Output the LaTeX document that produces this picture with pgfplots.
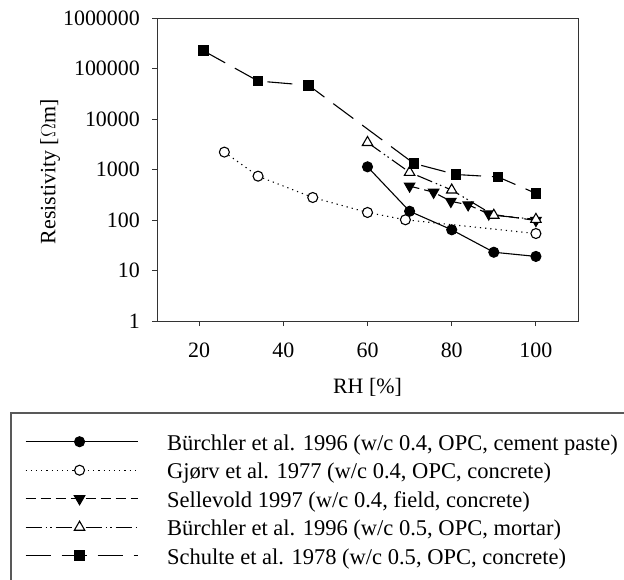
\documentclass[border=0pt]{standalone}
\usepackage{fontspec}
\setmainfont{Liberation Serif}
\usepackage{pgfplots}
\pgfplotsset{compat=1.18}
\begin{document}
\begin{tikzpicture}[x=1bp,y=1bp]
\useasboundingbox (0,0) rectangle (624,-580);
\clip (0,0) rectangle (624,-580);
\begin{axis}[
  at={(157bp,-321bp)}, anchor=south west,
  scale only axis, width=421bp, height=303bp,
  xmin=10, xmax=110, ymode=log, ymin=1, ymax=1000000,
  xtick={20,40,60,80,100},
  ytick={1,10,100,1000,10000,100000,1000000},
  yticklabels={1,10,100,1000,10000,100000,1000000},
  yminorticks=false, xminorticks=false,
  tick align=outside, tick pos=left, major tick length=5bp,
  axis line style={black!80, line width=1bp},
  every tick/.style={black!80, line width=1bp},
  font=\fontsize{22}{26}\selectfont,
  /pgf/number format/assume math mode=true,
  xticklabel style={inner sep=0pt, anchor=north, yshift=-17bp},
  yticklabel style={inner sep=0pt, anchor=east, xshift=-12bp},
  xlabel={RH [\%]},
  ylabel={Resistivity [$\Omega$m]},
  xlabel style={at={(axis description cs:0.5,-0.2195)}, anchor=center, inner sep=0pt},
  ylabel style={at={(axis description cs:-0.254,0.492)}, anchor=center, inner sep=0pt},
  legend image code/.code={\draw[mark repeat=2,mark phase=2,#1] plot coordinates {(0bp,2.8bp) (54bp,2.8bp) (112bp,2.8bp)};},
  legend cell align=left,
  legend style={at={(axis description cs:-0.3135,-0.3713)}, anchor=north west,
    draw=none, fill=none, inner sep=0pt, outer sep=0pt, row sep=6.5bp,
    font=\fontsize{22.6}{27}\selectfont,
    nodes={inner sep=0pt, text height=16.5bp, text depth=5.5bp, font=\fontsize{22.6}{27}\selectfont},
    /tikz/every odd column/.append style={column sep=29bp}},
]
\addplot[black, line width=1.1bp, mark=*, mark size=5bp, mark options={solid, fill=black}]
  coordinates {(60,1130) (70,149) (80,64) (90,23) (100,19)};
\addlegendentry{Bürchler et al. 1996 (w/c 0.4, OPC, cement paste)}
\addplot[black, line width=1.1bp, dash pattern=on 1.2bp off 4bp, mark=*, mark size=5bp, mark options={solid, fill=white}]
  coordinates {(26,2210) (34,738) (47,279) (60,141) (69,101) (100,54)};
\addlegendentry{Gjørv et al. 1977 (w/c 0.4, OPC, concrete)}
\addplot[black, line width=1.1bp, dash pattern=on 10bp off 5bp, mark=triangle*, mark size=6bp, mark options={solid, fill=black, rotate=180}]
  coordinates {(70,470) (75.7,355) (79.8,234) (83.9,200) (88.8,132) (100,98)};
\addlegendentry{Sellevold 1997 (w/c 0.4, field, concrete)}
\addplot[black, line width=1.1bp, dash pattern=on 16bp off 4bp on 1.5bp off 3bp on 1.5bp off 4bp, mark=triangle*, mark size=6bp, mark options={solid, fill=white}]
  coordinates {(60,3430) (70,880) (80,392) (90,124) (100,103)};
\addlegendentry{Bürchler et al. 1996 (w/c 0.5, OPC, mortar)}
\addplot[black, line width=1.1bp, dash pattern=on 25bp off 11bp, mark=square*, mark size=4.7bp, mark options={solid, fill=black}]
  coordinates {(21,225000) (34,56500) (46,46500) (71,1320) (81,796) (91,712) (100,337)};
\addlegendentry{Schulte et al. 1978 (w/c 0.5, OPC, concrete)}
\end{axis}
\draw[black!65, line width=1.3bp] (11,-413) rectangle (700,-700);
\end{tikzpicture}
\end{document}
